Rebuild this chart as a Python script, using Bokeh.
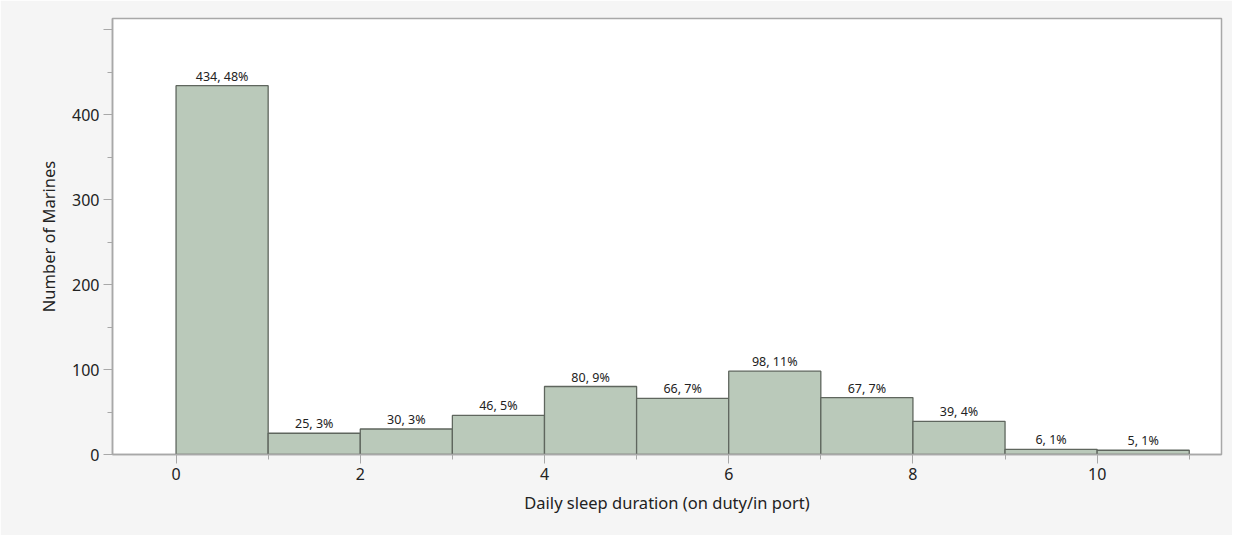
from bokeh.plotting import figure
from bokeh.models import ColumnDataSource, FixedTicker, Range1d
from bokeh.core.properties import value
from bokeh.embed import file_html
from bokeh.resources import INLINE

bin_left = [0, 1, 2, 3, 4, 5, 6, 7, 8, 9, 10]
bin_right = [1, 2, 3, 4, 5, 6, 7, 8, 9, 10, 11]
counts = [434, 25, 30, 46, 80, 66, 98, 67, 39, 6, 5]
percents = [48, 3, 3, 5, 9, 7, 11, 7, 4, 1, 1]
x_ticks = [0, 2, 4, 6, 8, 10]
x_minor = [1, 3, 5, 7, 9, 11]
y_ticks = [0, 100, 200, 300, 400, 500]
y_minor = [50, 150, 250, 350, 450]

labels = [f"{c}, {p}%" for c, p in zip(counts, percents)]
centers = [(l + r) / 2 for l, r in zip(bin_left, bin_right)]
src = ColumnDataSource(dict(left=bin_left, right=bin_right, top=counts,
                            bottom=[0] * len(counts), x=centers, label=labels))

FONT = "Noto Sans"
p = figure(width=1232, height=535, output_backend="svg", toolbar_location=None,
           x_range=Range1d(-0.69, 11.35), y_range=Range1d(0, 513),
           min_border_left=112, min_border_top=18, min_border_right=11, min_border_bottom=81)
p.border_fill_color = "#f5f5f5"
p.background_fill_color = "white"
p.outline_line_color = "#a8a8a8"
p.outline_line_width = 1.5
p.grid.visible = False

p.quad(left="left", right="right", top="top", bottom="bottom", source=src,
       fill_color="#bac9ba", line_color="#5f665e", line_width=1.3)
p.text(x="x", y="top", text="label", source=src, text_align="center",
       text_baseline="bottom", y_offset=-1, text_font=value(FONT),
       text_font_size="12.5px", text_color="#222222")

for ax in (p.xaxis[0], p.yaxis[0]):
    ax.axis_line_color = "#a8a8a8"
    ax.axis_line_width = 1.5
    ax.major_tick_line_color = "#a8a8a8"
    ax.minor_tick_line_color = "#a8a8a8"
    ax.major_tick_in = 0
    ax.minor_tick_in = 0
    ax.major_tick_out = 9
    ax.minor_tick_out = 5
    ax.major_label_text_font = FONT
    ax.major_label_text_font_size = "16px"
    ax.major_label_text_color = "#222222"
    ax.axis_label_text_font = FONT
    ax.axis_label_text_font_size = "16.5px"
    ax.axis_label_text_font_style = "normal"
    ax.axis_label_text_color = "#222222"

p.xaxis.ticker = FixedTicker(ticks=x_ticks, minor_ticks=x_minor)
p.yaxis.ticker = FixedTicker(ticks=y_ticks, minor_ticks=y_minor)
p.yaxis.major_label_overrides = {500: ""}
p.xaxis.axis_label = "Daily sleep duration (on duty/in port)"
p.yaxis.axis_label = "Number of Marines"
p.xaxis.major_label_standoff = 4
p.xaxis.axis_label_standoff = 8
p.yaxis.major_label_standoff = 4
p.yaxis.axis_label_standoff = 9

open("out.html", "w").write(file_html(p, INLINE))
